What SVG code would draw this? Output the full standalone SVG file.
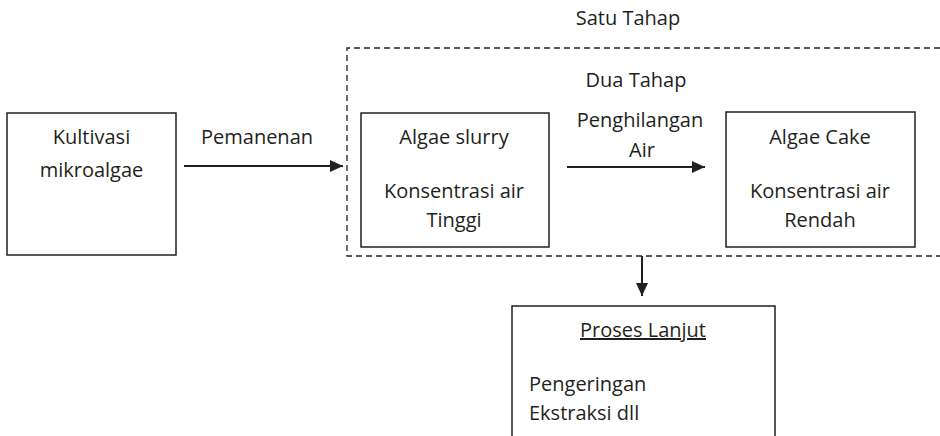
<svg xmlns="http://www.w3.org/2000/svg" width="940" height="436" viewBox="0 0 940 436">
<style>
text{font-family:"Open Sans","Liberation Sans",sans-serif;font-size:20px;fill:#231f20}
.c{text-anchor:middle}
.box{fill:#fff;stroke:#231f20;stroke-width:1.5}
.dash{fill:none;stroke:#231f20;stroke-width:1.3;stroke-dasharray:6 4}
.arr{fill:none;stroke:#231f20;stroke-width:2}
</style>
<defs>
<marker id="ah" markerUnits="userSpaceOnUse" markerWidth="14" markerHeight="14" refX="13" refY="6" orient="auto">
<path d="M0,0 L13,6 L0,12 Z" fill="#231f20"/>
</marker>
</defs>
<rect width="940" height="436" fill="#fff"/>
<g id="satu-tahap">
<path class="dash" d="M940,48 H347 V256 H940"/>
<text class="c" x="628" y="25">Satu Tahap</text>
</g>
<g id="dua-tahap">
<text class="c" x="636" y="87">Dua Tahap</text>
</g>
<g id="kultivasi">
<rect class="box" x="7" y="113" width="169" height="142"/>
<text class="c" x="91.5" y="144">Kultivasi</text>
<text class="c" x="91.5" y="177">mikroalgae</text>
</g>
<g id="algae-slurry">
<rect class="box" x="361" y="113" width="188" height="134"/>
<text class="c" x="454" y="144">Algae slurry</text>
<text class="c" x="454" y="198">Konsentrasi air</text>
<text class="c" x="454" y="227">Tinggi</text>
</g>
<g id="algae-cake">
<rect class="box" x="726" y="112" width="189" height="135"/>
<text class="c" x="820" y="144">Algae Cake</text>
<text class="c" x="820" y="198">Konsentrasi air</text>
<text class="c" x="820" y="227">Rendah</text>
</g>
<g id="proses-lanjut">
<path class="box" d="M512,440 V306 H775 V440"/>
<text class="c" x="643" y="337" text-decoration="underline">Proses Lanjut</text>
<text x="529" y="391">Pengeringan</text>
<text x="529" y="420">Ekstraksi dll</text>
</g>
<g id="connectors">
<line class="arr" x1="184" y1="166" x2="343" y2="166" marker-end="url(#ah)"/>
<text class="c" x="257" y="144">Pemanenan</text>
<line class="arr" x1="567" y1="167" x2="705" y2="167" marker-end="url(#ah)"/>
<text class="c" x="640" y="127">Penghilangan</text>
<text class="c" x="642" y="157">Air</text>
<line class="arr" x1="642" y1="256" x2="642" y2="296" marker-end="url(#ah)"/>
</g>
</svg>
